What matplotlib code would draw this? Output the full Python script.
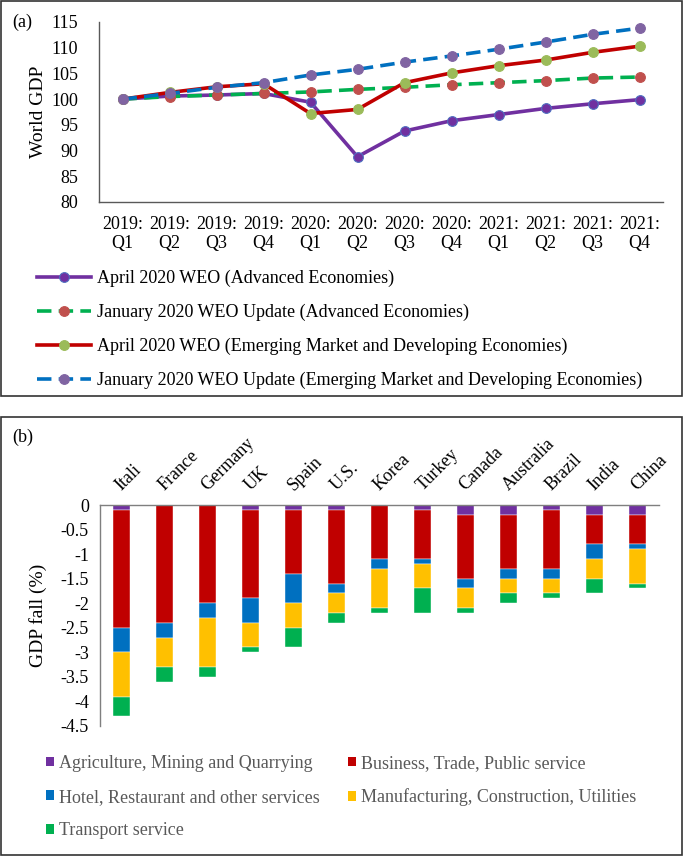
import matplotlib
matplotlib.use("Agg")
import matplotlib.pyplot as plt
from matplotlib.patches import Rectangle, Patch
import numpy as np

plt.rcParams['font.family'] = ['Liberation Serif', 'DejaVu Serif']
FS = 13

# ---------------- Data: panel (a) ----------------
quarters = ["2019:\nQ1", "2019:\nQ2", "2019:\nQ3", "2019:\nQ4",
            "2020:\nQ1", "2020:\nQ2", "2020:\nQ3", "2020:\nQ4",
            "2021:\nQ1", "2021:\nQ2", "2021:\nQ3", "2021:\nQ4"]
apr_ae = [100, 100.6, 100.8, 101.1, 99.4, 88.8, 93.8, 95.8, 97.0, 98.2, 99.1, 99.9]
jan_ae = [100, 100.5, 100.8, 101.1, 101.4, 101.9, 102.3, 102.8, 103.2, 103.6, 104.1, 104.3]
apr_emde = [100, 101.3, 102.4, 103.0, 97.2, 98.0, 103.2, 105.1, 106.5, 107.6, 109.1, 110.3]
jan_emde = [100, 101.1, 102.3, 103.2, 104.7, 105.8, 107.2, 108.4, 109.7, 111.1, 112.6, 113.8]
series_a_labels = ["April 2020 WEO (Advanced Economies)",
                   "January 2020 WEO Update (Advanced Economies)",
                   "April 2020 WEO (Emerging Market and Developing Economies)",
                   "January 2020 WEO Update (Emerging Market and Developing Economies)"]

# ---------------- Data: panel (b) ----------------
countries = ["Itali", "France", "Germany", "UK", "Spain", "U.S.", "Korea",
             "Turkey", "Canada", "Australia", "Brazil", "India", "China"]
agri = [-0.1, 0.0, 0.0, -0.1, -0.1, -0.1, 0.0, -0.1, -0.2, -0.2, -0.1, -0.2, -0.2]
business = [-2.4, -2.4, -2.0, -1.8, -1.3, -1.5, -1.1, -1.0, -1.3, -1.1, -1.2, -0.6, -0.6]
hotel = [-0.5, -0.3, -0.3, -0.5, -0.6, -0.2, -0.2, -0.1, -0.2, -0.2, -0.2, -0.3, -0.1]
manuf = [-0.9, -0.6, -1.0, -0.5, -0.5, -0.4, -0.8, -0.5, -0.4, -0.3, -0.3, -0.4, -0.7]
transport = [-0.4, -0.3, -0.2, -0.1, -0.4, -0.2, -0.1, -0.5, -0.1, -0.2, -0.1, -0.3, -0.1]
sector_labels = ["Agriculture, Mining and Quarrying", "Business, Trade, Public service",
                 "Hotel, Restaurant and other services", "Manufacturing, Construction, Utilities",
                 "Transport service"]
sector_colors = ["#7030A0", "#C00000", "#0070C0", "#FFC000", "#00B050"]

W, H = 683, 856
fig = plt.figure(figsize=(W / 100, H / 100), dpi=100)

def fx(px):
    return px / W

def fy(py):
    return 1 - py / H

# panel borders
fig.patches.append(Rectangle((fx(1), fy(396)), fx(681), 395 / H, transform=fig.transFigure,
                             fill=False, edgecolor="#333333", linewidth=1.2))
fig.patches.append(Rectangle((fx(1), fy(855)), fx(681), 438 / H, transform=fig.transFigure,
                             fill=False, edgecolor="#333333", linewidth=1.2))

fig.text(fx(12), fy(22), "(a)", fontsize=FS, va="center", ha="left")
fig.text(fx(12), fy(437), "(b)", fontsize=FS, va="center", ha="left")

# ---------------- Panel (a) ----------------
axa = fig.add_axes([fx(99), fy(202), fx(663 - 99), (202 - 22) / H])
x = np.arange(len(quarters))
dash = (0, (4.0, 2.0))
styles = [
    dict(data=apr_ae, color="#7030A0", ls="-", mfc="#7030A0", mec="#4F6FC0"),
    dict(data=jan_ae, color="#00B050", ls=dash, mfc="#C0504D", mec="#C0504D"),
    dict(data=apr_emde, color="#C00000", ls="-", mfc="#9BBB59", mec="#9BBB59"),
    dict(data=jan_emde, color="#0070C0", ls=dash, mfc="#8064A2", mec="#8064A2"),
]
handles = []
for st, lab in zip(styles, series_a_labels):
    h, = axa.plot(x, st["data"], color=st["color"], linestyle=st["ls"], linewidth=2.6,
                  marker="o", markersize=7, markerfacecolor=st["mfc"],
                  markeredgecolor=st["mec"], markeredgewidth=0.8, label=lab)
    handles.append(h)
axa.set_xlim(-0.5, len(quarters) - 0.5)
axa.set_ylim(80, 115)
axa.set_yticks(np.arange(80, 116, 5))
axa.set_xticks(x)
axa.set_xticklabels(quarters, fontsize=FS, linespacing=1.15)
axa.tick_params(axis="y", labelsize=FS, length=0, pad=15)
axa.tick_params(axis="x", length=0, pad=10)
for s in ["top", "right"]:
    axa.spines[s].set_visible(False)
for s in ["left", "bottom"]:
    axa.spines[s].set_color("#595959")
    axa.spines[s].set_linewidth(1.0)
axa.set_ylabel("World GDP", fontsize=FS + 1)
axa.yaxis.set_label_coords(-0.092, 0.5)

fig.legend(handles=handles, loc="upper left", bbox_to_anchor=(fx(37), fy(270)),
           frameon=False, fontsize=FS, handlelength=3.0, handletextpad=0.3,
           labelspacing=0.92, borderpad=0, borderaxespad=0)

# ---------------- Panel (b) ----------------
axb = fig.add_axes([fx(100), fy(726), fx(559), (726 - 505) / H])
xb = np.arange(len(countries))
bottom = np.zeros(len(countries))
sectors = [agri, business, hotel, manuf, transport]
for vals, col, lab in zip(sectors, sector_colors, sector_labels):
    v = np.array(vals)
    axb.bar(xb, v, width=0.4, bottom=bottom, color=col, edgecolor="white",
            linewidth=0.3, label=lab)
    bottom = bottom + v
axb.set_xlim(-0.5, len(countries) - 0.5)
axb.set_ylim(-4.5, 0)
yt = np.arange(-4.5, 0.01, 0.5)
axb.set_yticks(yt)
axb.set_yticklabels(["0" if abs(t) < 1e-9 else ("%g" % t) for t in yt])
axb.tick_params(axis="y", labelsize=FS, length=0, pad=8)
axb.xaxis.tick_top()
axb.set_xticks(xb)
axb.set_xticklabels(countries, rotation=45, ha="left", va="baseline",
                    rotation_mode="anchor", fontsize=FS)
axb.tick_params(axis="x", length=0, pad=10)
for s in ["bottom", "right"]:
    axb.spines[s].set_visible(False)
for s in ["left", "top"]:
    axb.spines[s].set_color("#7F7F7F")
    axb.spines[s].set_linewidth(1.0)
axb.set_ylabel("GDP fall (%)", fontsize=FS + 1)
axb.yaxis.set_label_coords(-0.095, 0.5)

# row-major order for a 2-column legend
order = [0, 2, 4, 1, 3]
leg_handles = [Patch(facecolor=sector_colors[i], edgecolor="none") for i in order]
leg_labels = [sector_labels[i] for i in order]
fig.legend(handles=leg_handles, labels=leg_labels, ncol=2, loc="upper left",
           bbox_to_anchor=(fx(46), fy(755)), frameon=False, fontsize=FS,
           handlelength=0.45, handleheight=0.45, handletextpad=0.25,
           labelspacing=0.92, columnspacing=1.6, borderpad=0, borderaxespad=0,
           labelcolor="#595959")

fig.savefig("out.png", dpi=100)
